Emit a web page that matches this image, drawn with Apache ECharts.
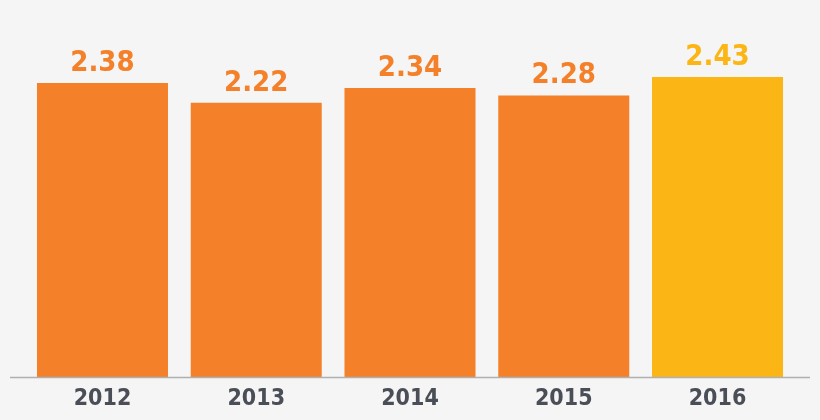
<!DOCTYPE html>
<html><head><meta charset="utf-8">
<script src="https://cdn.jsdelivr.net/npm/echarts@6/dist/echarts.min.js"></script>
<style>html,body{margin:0;padding:0;background:#f5f5f5}#c{width:820px;height:420px}</style>
</head><body><div id="c"></div>
<script>
const categories = ['2012','2013','2014','2015','2016'];
const values = [2.38, 2.22, 2.34, 2.28, 2.43];
const barColors = ['#f4802a','#f4802a','#f4802a','#f4802a','#fbb616'];
const labelColors = ['#f4802a','#f4802a','#f4802a','#f4802a','#fbb616'];
const FONT = "'Liberation Sans Narrow', 'DejaVu Sans Condensed', sans-serif";
const chart = echarts.init(document.getElementById('c'));
chart.setOption({
  backgroundColor: '#f5f5f5',
  animation: false,
  grid: {left: 25.6, right: 25.6, top: 6.5, bottom: 43},
  xAxis: {
    type: 'category', data: categories,
    axisLine: {show: false}, axisTick: {show: false},
    axisLabel: {color: '#4a4f57', fontFamily: FONT, fontWeight: 'bold', fontSize: 23, margin: 11}
  },
  yAxis: {type: 'value', min: 0, max: 3, show: false, splitLine: {show: false}},
  series: [{
    type: 'bar', barCategoryGap: '14.8%',
    data: values.map((v, i) => ({
      value: v,
      itemStyle: {color: barColors[i]},
      label: {color: labelColors[i]}
    })),
    label: {show: true, position: 'top', distance: 5, fontFamily: FONT, fontWeight: 'bold', fontSize: 29,
      formatter: p => p.value.toFixed(2)}
  }],
  graphic: [{
    type: 'line', shape: {x1: 10, y1: 377.5, x2: 810, y2: 377.5},
    style: {stroke: '#b0b0b0', lineWidth: 1.5}, z: 10
  }]
});
</script></body></html>
